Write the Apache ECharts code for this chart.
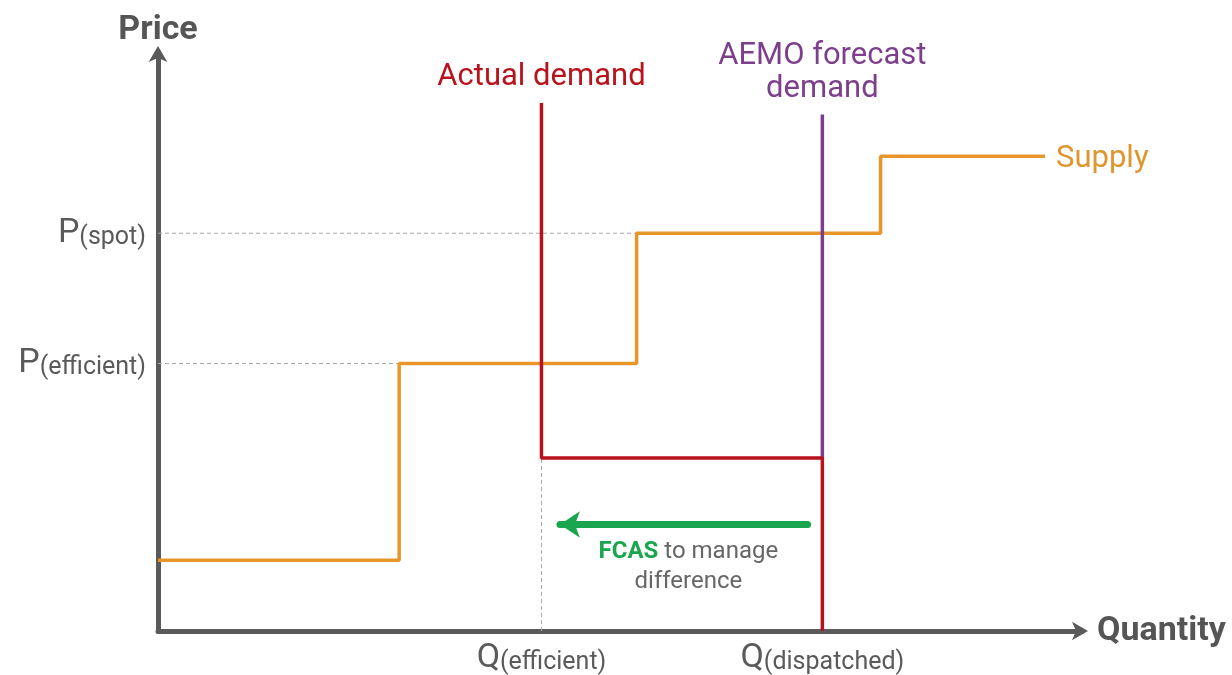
<!DOCTYPE html>
<html>
<head>
<meta charset="utf-8">
<script src="https://cdn.jsdelivr.net/npm/echarts@6/dist/echarts.min.js"></script>
<style>html,body{margin:0;padding:0;background:#fff}#c{width:1232px;height:675px}</style>
</head>
<body>
<div id="c"></div>
<script>
// Quantity / price positions (arbitrary units 0-100)
const supplyX = [0, 26.1, 26.1, 51.8, 51.8, 78.2, 78.2, 96.0];
const supplyY = [12.2, 12.2, 46.2, 46.2, 68.7, 68.7, 82.0, 82.0];
const actualX = [41.5, 41.5, 71.9, 71.9];
const actualY = [91.2, 29.9, 29.9, 0];
const forecastX = [71.9, 71.9];
const forecastY = [89.2, 29.9];
const priceTicks = [46.2, 68.7];
const priceLabels = ['efficient', 'spot'];
const qtyTicks = [41.5, 71.9];
const qtyLabels = ['efficient', 'dispatched'];
const fcasArrow = {fromX: 70.3, toX: 43.5, y: 18.4};
const fcasText = {x: 57.4, y: 11.1};

const zip = (xs, ys) => xs.map((x, i) => [x, ys[i]]);
const FONT = 'Roboto';
const AX = '#5a5a5a';
const labelRich = (a) => ({
  [a]: {fontSize: 34, color: '#5a5a5a', fontFamily: FONT, verticalAlign: 'bottom', lineHeight: 34},
  s: {fontSize: 25, color: '#5a5a5a', fontFamily: FONT, verticalAlign: 'bottom', lineHeight: 30}
});

const chart = echarts.init(document.getElementById('c'));
chart.setOption({
  animation: false,
  grid: {left: 158, right: 150, top: 52, bottom: 41},
  xAxis: {
    type: 'value', min: 0, max: 100,
    splitLine: {show: false},
    axisLine: {show: true, lineStyle: {color: AX, width: 5}, symbol: ['none', 'arrow'], symbolSize: [14, 16], symbolOffset: [0, 6]},
    axisTick: {show: false},
    axisLabel: {
      customValues: qtyTicks, margin: 10, color: '#5a5a5a', fontFamily: FONT,
      formatter: v => '{q|Q}{s|(' + qtyLabels[qtyTicks.indexOf(v)] + ')}',
      rich: labelRich('q')
    },
    name: 'Quantity', nameLocation: 'end', nameGap: 15,
    nameTextStyle: {fontSize: 34, fontWeight: 'bold', color: '#555', fontFamily: FONT, align: 'left', verticalAlign: 'middle', padding: [12, 0, 0, 0]}
  },
  yAxis: {
    type: 'value', min: 0, max: 100,
    splitLine: {show: false},
    axisLine: {show: true, lineStyle: {color: AX, width: 5}, symbol: ['none', 'arrow'], symbolSize: [14, 16], symbolOffset: [0, 6]},
    axisTick: {show: false},
    axisLabel: {
      customValues: priceTicks, margin: 12, color: '#5a5a5a', fontFamily: FONT,
      formatter: v => '{p|P}{s|(' + priceLabels[priceTicks.indexOf(v)] + ')}',
      rich: labelRich('p')
    },
    name: 'Price', nameLocation: 'end', nameGap: 5,
    nameTextStyle: {fontSize: 34, fontWeight: 'bold', color: '#555', fontFamily: FONT, align: 'center'}
  },
  series: [
    {
      type: 'line', data: [[0, priceTicks[1]], [supplyX[4], priceTicks[1]]], symbol: 'none', silent: true,
      lineStyle: {color: '#aaa', width: 1, type: [4, 3]}, z: 1
    },
    {
      type: 'line', data: [[0, priceTicks[0]], [supplyX[2], priceTicks[0]]], symbol: 'none', silent: true,
      lineStyle: {color: '#aaa', width: 1, type: [4, 3]}, z: 1
    },
    {
      type: 'line', data: [[qtyTicks[0], 0], [qtyTicks[0], actualY[1]]], symbol: 'none', silent: true,
      lineStyle: {color: '#aaa', width: 1, type: [4, 3]}, z: 1
    },
    {
      name: 'Supply', type: 'line', data: zip(supplyX, supplyY), symbol: 'none',
      lineStyle: {color: '#e8962a', width: 3.5}, z: 3,
      endLabel: {show: true, formatter: 'Supply', color: '#e0962e', fontSize: 31, fontFamily: FONT, distance: 11, offset: [0, 3]}
    },
    {
      name: 'AEMO forecast demand', type: 'line', symbol: 'none',
      data: zip(forecastX, forecastY),
      lineStyle: {color: '#7d3f8c', width: 3.5}, z: 4
    },
    {
      name: 'Actual demand', type: 'line', symbol: 'none',
      data: zip(actualX, actualY),
      lineStyle: {color: '#b8121c', width: 3.5}, z: 5
    },
    {
      type: 'scatter', symbolSize: 1, silent: true, itemStyle: {color: 'rgba(0,0,0,0)', opacity: 1},
      data: [
        {value: [actualX[0], actualY[0]], label: {show: true, position: 'top', distance: 10, opacity: 1,
          formatter: 'Actual demand', color: '#b8121c', fontSize: 31, fontFamily: FONT}},
        {value: [forecastX[0], forecastY[0]], label: {show: true, position: 'top', distance: 8, opacity: 1,
          formatter: 'AEMO forecast\ndemand', color: '#7d3f8c', fontSize: 31, lineHeight: 33, fontFamily: FONT, align: 'center'}},
        {value: [fcasText.x, fcasText.y], label: {show: true, position: 'inside', opacity: 1,
          formatter: '{b|FCAS} to manage\ndifference', fontSize: 24, lineHeight: 30, color: '#666', fontFamily: FONT, align: 'center',
          rich: {b: {fontWeight: 'bold', color: '#1aa64e', fontSize: 24, fontFamily: FONT}}}}
      ],
      markLine: {
        silent: true, symbol: ['none', 'arrow'], symbolSize: [20, 20],
        lineStyle: {color: '#1aa64e', width: 7, type: 'solid', cap: 'round', opacity: 1},
        label: {show: false},
        data: [[{coord: [fcasArrow.fromX, fcasArrow.y]}, {coord: [fcasArrow.toX, fcasArrow.y]}]]
      }
    }
  ]
});
</script>
</body>
</html>
